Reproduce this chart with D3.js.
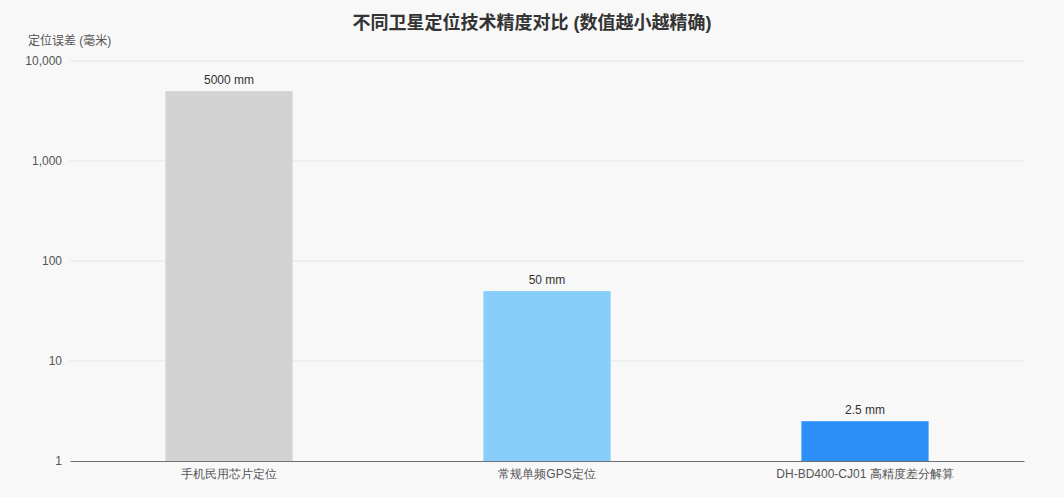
<!DOCTYPE html>
<html>
<head>
<meta charset="utf-8">
<script src="https://cdn.jsdelivr.net/npm/d3@7/dist/d3.min.js"></script>
<style>
  body { margin: 0; background: #f8f8f9; }
  svg { display: block; font-family: "Liberation Sans", "Noto Sans CJK SC", sans-serif; }
</style>
</head>
<body>
<svg id="chart"></svg>
<script>
const categories = ['手机民用芯片定位', '常规单频GPS定位', 'DH-BD400-CJ01 高精度差分解算'];
const errorsMm = [5000, 50, 2.5];
const barColors = ['#d3d3d3', '#87cefa', '#2b8ff7'];
const yTicks = [1, 10, 100, 1000, 10000];

const width = 1064, height = 497;
const margin = { top: 61, right: 40, bottom: 36, left: 70 };
const innerW = width - margin.left - margin.right;
const innerH = height - margin.top - margin.bottom;

const svg = d3.select('#chart')
  .attr('width', width)
  .attr('height', height);

const chart = svg.append('g')
  .attr('transform', `translate(${margin.left},${margin.top})`);

const xScale = d3.scaleBand()
  .domain(categories)
  .range([0, innerW]);

const yScale = d3.scaleLog()
  .domain([1, 10000])
  .range([innerH, 0]);

// grid lines
chart.append('g')
  .selectAll('line')
  .data(yTicks.slice(1))
  .join('line')
    .attr('x1', 0)
    .attr('x2', innerW)
    .attr('y1', d => yScale(d))
    .attr('y2', d => yScale(d))
    .attr('stroke', '#e3e5ec')
    .attr('stroke-width', 1);

// y axis (labels only)
const yAxis = d3.axisLeft(yScale)
  .tickValues(yTicks)
  .tickFormat(d3.format(','))
  .tickSize(0)
  .tickPadding(8);

chart.append('g')
  .call(yAxis)
  .call(g => g.select('.domain').remove())
  .call(g => g.selectAll('text')
    .attr('fill', '#555')
    .attr('font-size', 12));

// bars
const barW = xScale.bandwidth() * 0.4;
chart.selectAll('.bar')
  .data(errorsMm)
  .join('rect')
    .attr('class', 'bar')
    .attr('x', (d, i) => xScale(categories[i]) + (xScale.bandwidth() - barW) / 2)
    .attr('y', d => yScale(d))
    .attr('width', barW)
    .attr('height', d => innerH - yScale(d))
    .attr('fill', (d, i) => barColors[i]);

// value labels
chart.selectAll('.val')
  .data(errorsMm)
  .join('text')
    .attr('class', 'val')
    .attr('x', (d, i) => xScale(categories[i]) + xScale.bandwidth() / 2)
    .attr('y', d => yScale(d) - 7)
    .attr('text-anchor', 'middle')
    .attr('font-size', 12)
    .attr('fill', '#333')
    .text(d => d + ' mm');

// x axis
const xAxis = d3.axisBottom(xScale).tickSize(0).tickPadding(8);
chart.append('g')
  .attr('transform', `translate(0,${innerH})`)
  .call(xAxis)
  .call(g => g.select('.domain').attr('stroke', '#6e7079'))
  .call(g => g.selectAll('text')
    .attr('fill', '#555')
    .attr('font-size', 12));

// title
svg.append('text')
  .attr('x', width / 2)
  .attr('y', 29)
  .attr('text-anchor', 'middle')
  .attr('font-size', 18)
  .attr('font-weight', 'bold')
  .attr('fill', '#333')
  .text('不同卫星定位技术精度对比 (数值越小越精确)');

// y axis name
svg.append('text')
  .attr('x', 28)
  .attr('y', 45)
  .attr('font-size', 12)
  .attr('fill', '#555')
  .text('定位误差 (毫米)');
</script>
</body>
</html>
